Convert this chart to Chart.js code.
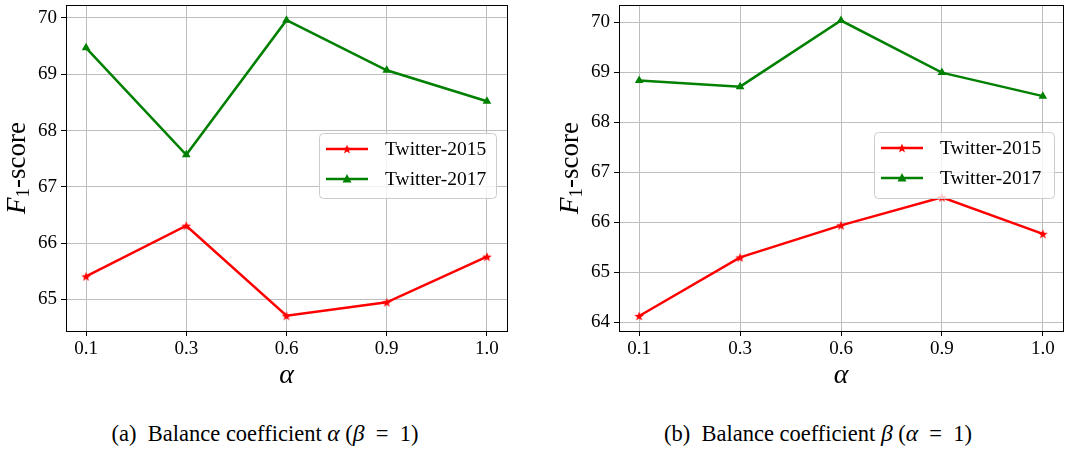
<!DOCTYPE html>
<html>
<head>
<meta charset="utf-8">
<script src="https://cdn.jsdelivr.net/npm/chart.js@4.4.0/dist/chart.umd.min.js"></script>
<style>
	body { margin: 0; width: 1073px; height: 452px; background: #fff; position: relative; overflow: hidden; font-family: "Liberation Serif", serif; }
	canvas { position: absolute; top: 0; }
	#chartA { left: 0; }
	#chartB { left: 540px; }
	.cap { position: absolute; top: 420px; font-family: "Liberation Serif", serif; font-size: 22.5px; line-height: 26px; white-space: nowrap; transform: translateX(-50%); color: #000; }
	.cap i { font-size: 23.5px; }
</style>
</head>
<body>
<canvas id="chartA" width="540" height="400"></canvas>
<canvas id="chartB" width="533" height="400"></canvas>
<div class="cap" style="left:265px">(a)&nbsp; Balance coefficient <i>α</i> (<i>β</i> &nbsp;=&nbsp; 1)</div>
<div class="cap" style="left:818px">(b)&nbsp; Balance coefficient <i>β</i> (<i>α</i> &nbsp;=&nbsp; 1)</div>
<script>
const alphaLabels = ["0.1", "0.3", "0.6", "0.9", "1.0"];
const seriesNames = ["Twitter-2015", "Twitter-2017"];

const twitter2015A = [65.41, 66.31, 64.71, 64.95, 65.76];
const twitter2017A = [69.47, 67.57, 69.96, 69.07, 68.52];
const yTicksA = [65, 66, 67, 68, 69, 70];

const twitter2015B = [64.13, 65.30, 65.94, 66.50, 65.77];
const twitter2017B = [68.83, 68.71, 70.03, 68.99, 68.52];
const yTicksB = [64, 65, 66, 67, 68, 69, 70];

const serif = "'Liberation Serif', 'Times New Roman', serif";

// filled star marker like matplotlib '*'
function makeStar(size, color) {
	const c = document.createElement("canvas");
	c.width = size; c.height = size;
	const g = c.getContext("2d");
	const cx = size / 2, cy = size / 2 + 0.5, R = size / 2, r = R * 0.42;
	g.beginPath();
	for (let i = 0; i < 10; i++) {
		const rad = i % 2 === 0 ? R : r;
		const a = -Math.PI / 2 + i * Math.PI / 5;
		g.lineTo(cx + rad * Math.cos(a), cy + rad * Math.sin(a));
	}
	g.closePath();
	g.fillStyle = color;
	g.fill();
	return c;
}
const redStar = makeStar(10, "#ff0000");

function toPoints(values) {
	return values.map((v, i) => ({ x: i, y: v }));
}

const framePlugin = {
	id: "frame",
	afterDatasetsDraw(chart, args, opts) {
		const ctx = chart.ctx;
		const a = chart.chartArea;
		ctx.save();
		ctx.strokeStyle = "#000";
		ctx.lineWidth = 1;
		ctx.strokeRect(Math.round(a.left) + 0.5, Math.round(a.top) + 0.5, Math.round(a.right - a.left), Math.round(a.bottom - a.top));

		// axis titles
		ctx.fillStyle = "#000";
		ctx.textBaseline = "middle";
		const midY = (a.top + a.bottom) / 2;
		ctx.translate(opts.yTitleX, midY);
		ctx.rotate(-Math.PI / 2);
		ctx.font = "italic 27px " + serif;
		const wF = ctx.measureText("F").width;
		ctx.font = "19px " + serif;
		const w1 = ctx.measureText("1").width;
		ctx.font = "27px " + serif;
		const wS = ctx.measureText("-score").width;
		let x = -(wF + w1 + wS) / 2;
		ctx.textAlign = "left";
		ctx.font = "italic 27px " + serif;
		ctx.fillText("F", x, 0);
		x += wF;
		ctx.font = "19px " + serif;
		ctx.fillText("1", x, 6);
		x += w1;
		ctx.font = "27px " + serif;
		ctx.fillText("-score", x, 0);
		ctx.restore();

		ctx.save();
		ctx.fillStyle = "#000";
		ctx.font = "italic 28px " + serif;
		ctx.textAlign = "center";
		ctx.textBaseline = "middle";
		ctx.fillText("α", (a.left + a.right) / 2, opts.xTitleY);
		ctx.restore();

		// legend
		const L = opts.legend;
		ctx.save();
		ctx.beginPath();
		ctx.roundRect(L.x + 0.5, L.y + 0.5, L.w, L.h, 4);
		ctx.fillStyle = "rgba(255,255,255,0.8)";
		ctx.fill();
		ctx.strokeStyle = "#cccccc";
		ctx.lineWidth = 1;
		ctx.stroke();
		chart.data.datasets.forEach((ds, i) => {
			const yy = L.y + 16 + i * 30;
			ctx.strokeStyle = ds.borderColor;
			ctx.lineWidth = 2.5;
			ctx.beginPath();
			ctx.moveTo(L.x + 7, yy);
			ctx.lineTo(L.x + 49, yy);
			ctx.stroke();
			const mx = L.x + 28;
			if (i === 0) {
				ctx.drawImage(redStar, mx - 5, yy - 5);
			} else {
				ctx.fillStyle = ds.borderColor;
				ctx.beginPath();
				ctx.moveTo(mx, yy - 5);
				ctx.lineTo(mx + 4.5, yy + 3.5);
				ctx.lineTo(mx - 4.5, yy + 3.5);
				ctx.closePath();
				ctx.fill();
			}
			ctx.fillStyle = "#000";
			ctx.font = "19.5px " + serif;
			ctx.textAlign = "left";
			ctx.textBaseline = "middle";
			ctx.fillText(ds.label, L.x + 66, yy + 1);
		});
		ctx.restore();
	}
};

function makeChart(id, d2015, d2017, yTicks, yMin, yMax, yWidth, padRight, frameOpts) {
	return new Chart(id, {
		type: "line",
		data: {
			datasets: [{
				label: seriesNames[0],
				data: toPoints(d2015),
				borderColor: "#ff0000",
				backgroundColor: "#ff0000",
				borderWidth: 2.5,
				pointStyle: redStar,
				pointRadius: 5,
				pointBorderWidth: 0,
				tension: 0
			}, {
				label: seriesNames[1],
				data: toPoints(d2017),
				borderColor: "#008000",
				backgroundColor: "#008000",
				borderWidth: 2.5,
				pointStyle: "triangle",
				pointRadius: 5,
				pointBorderWidth: 0,
				tension: 0
			}]
		},
		options: {
			responsive: false,
			animation: false,
			layout: { padding: { left: 0, top: 0, right: padRight, bottom: 0 } },
			plugins: {
				legend: { display: false },
				tooltip: { enabled: false },
				frame: frameOpts
			},
			scales: {
				x: {
					type: "linear",
					min: -0.2,
					max: 4.2,
					afterBuildTicks: s => { s.ticks = alphaLabels.map((l, i) => ({ value: i })); },
					afterFit: s => { s.height = 69; s.paddingLeft = 0; s.paddingRight = 0; },
					ticks: {
						callback: v => alphaLabels[v],
						color: "#000",
						font: { family: serif, size: 19 },
						padding: 2,
						maxRotation: 0
					},
					grid: { color: "#bdbdbd", lineWidth: 1, tickColor: "#000", tickLength: 5 },
					border: { display: false }
				},
				y: {
					min: yMin,
					max: yMax,
					afterBuildTicks: s => { s.ticks = yTicks.map(v => ({ value: v })); },
					afterFit: s => { s.width = yWidth; s.paddingTop = 0; s.paddingBottom = 0; },
					ticks: {
						color: "#000",
						font: { family: serif, size: 19 },
						padding: 4
					},
					grid: { color: "#bdbdbd", lineWidth: 1, tickColor: "#000", tickLength: 5 },
					border: { display: false }
				}
			}
		},
		plugins: [framePlugin]
	});
}

makeChart("chartA", twitter2015A, twitter2017A, yTicksA, 64.44, 70.23, 66, 33,
	{ yTitleX: 18, xTitleY: 376, legend: { x: 319, y: 133, w: 177, h: 65 } });

makeChart("chartB", twitter2015B, twitter2017B, yTicksB, 63.83, 70.34, 79, 10,
	{ yTitleX: 31, xTitleY: 376, legend: { x: 334, y: 132, w: 180, h: 66 } });
</script>
</body>
</html>
